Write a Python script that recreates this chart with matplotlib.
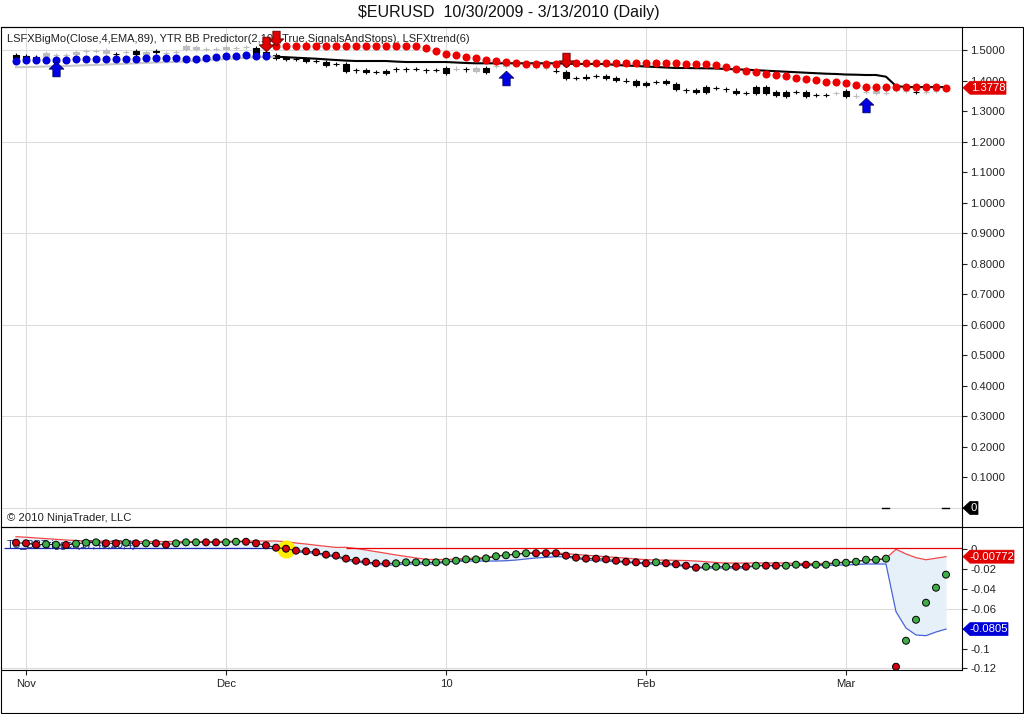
import numpy as np
import matplotlib
matplotlib.use('Agg')
import matplotlib.pyplot as plt
from matplotlib.patches import Polygon, Rectangle
from matplotlib.lines import Line2D
from matplotlib.transforms import IdentityTransform

plt.rcParams['font.family'] = ['Liberation Sans', 'DejaVu Sans']

# price panel
candle_open = [1.4852,1.4819,1.4786,1.4819,1.4852,1.4852,1.4885,1.4967,1.4983,1.4918,1.4885,1.4950,1.4983,1.4885,1.4970,1.4918,1.4950,1.5049,1.5049,1.5049,
	1.5049,1.5049,1.5082,1.5114,1.5082,1.4950,1.4852,1.4740,1.4721,1.4721,1.4655,1.4622,1.4557,1.4557,1.4350,1.4360,1.4288,1.4327,1.4383,1.4383,
	1.4393,1.4350,1.4370,1.4426,1.4403,1.4383,1.4327,1.4416,1.4500,1.4491,1.4560,1.4540,1.4449,1.4416,1.4340,1.4294,1.4101,1.4147,1.4163,1.4153,
	1.4098,1.4012,1.3989,1.3944,1.3966,1.3989,1.3901,1.3695,1.3714,1.3812,1.3780,1.3727,1.3688,1.3616,1.3793,1.3793,1.3649,1.3638,1.3640,1.3638,
	1.3541,1.3541,1.3596,1.3671,1.3517,1.3649,1.3616,1.3616,1.3700,1.3661,1.3631,1.3638,1.3681,1.3727]
candle_close = [1.4754,1.4721,1.4721,1.4918,1.4852,1.4852,1.4950,1.4967,1.4983,1.5016,1.4880,1.4950,1.4885,1.4950,1.4965,1.4918,1.4950,1.5147,1.5114,1.5049,
	1.5049,1.5114,1.5082,1.5114,1.4885,1.4819,1.4754,1.4735,1.4718,1.4655,1.4652,1.4540,1.4554,1.4337,1.4347,1.4294,1.4285,1.4252,1.4380,1.4380,
	1.4390,1.4347,1.4367,1.4272,1.4406,1.4380,1.4426,1.4304,1.4503,1.4557,1.4563,1.4543,1.4452,1.4419,1.4337,1.4088,1.4098,1.4098,1.4160,1.4088,
	1.4032,1.4009,1.3859,1.3878,1.3963,1.3924,1.3727,1.3692,1.3649,1.3649,1.3777,1.3724,1.3622,1.3613,1.3596,1.3596,1.3540,1.3524,1.3635,1.3507,
	1.3538,1.3538,1.3599,1.3517,1.3520,1.3652,1.3681,1.3619,1.3703,1.3664,1.3628,1.3641,1.3684,1.3730]
trend = [1.4449,1.4458,1.4465,1.4475,1.4481,1.4491,1.4504,1.4517,1.4527,1.4540,1.4553,1.4567,1.4580,1.4593,1.4606,1.4616,1.4629,1.4642,1.4665,1.4681,
	1.4701,1.4721,1.4740,1.4760,1.4777,1.4786,1.4796,1.4780,1.4763,1.4747,1.4731,1.4708,1.4688,1.4668,1.4655,1.4655,1.4655,1.4655,1.4636,1.4622,
	1.4622,1.4622,1.4622,1.4622,1.4606,1.4590,1.4580,1.4580,1.4580,1.4580,1.4580,1.4580,1.4580,1.4580,1.4580,1.4567,1.4557,1.4557,1.4557,1.4557,
	1.4524,1.4508,1.4491,1.4475,1.4458,1.4442,1.4426,1.4426,1.4419,1.4416,1.4409,1.4393,1.4383,1.4370,1.4354,1.4337,1.4321,1.4304,1.4288,1.4271,
	1.4255,1.4239,1.4229,1.4212,1.4206,1.4196,1.4196,1.4140,1.3835,1.3802,1.3802,1.3802,1.3802,1.3802]
stop_long = [1.4665,1.4678,1.4688,1.4688,1.4688,1.4698,1.4721,1.4721,1.4721,1.4731,1.4737,1.4737,1.4737,1.4744,1.4744,1.4744,1.4744,1.4737,1.4737,1.4754,
	1.4786,1.4819,1.4819,1.4836,1.4819,1.4819]
stop_short = [1.5155,1.5155,1.5155,1.5155,1.5155,1.5155,1.5155,1.5155,1.5155,1.5155,1.5155,1.5155,1.5155,1.5155,1.5155,1.5082,1.4993,1.4885,1.4852,1.4777,
	1.4754,1.4688,1.4655,1.4622,1.4599,1.4567,1.4567,1.4567,1.4567,1.4580,1.4574,1.4574,1.4574,1.4574,1.4574,1.4574,1.4574,1.4574,1.4574,1.4574,
	1.4574,1.4567,1.4567,1.4557,1.4534,1.4458,1.4393,1.4337,1.4285,1.4239,1.4206,1.4163,1.4107,1.4065,1.4032,1.3976,1.3976,1.3944,1.3868,1.3802,
	1.3802,1.3802,1.3812,1.3812,1.3802,1.3802,1.3802,1.3778]
up_bars = [4, 49, 85]
up_vals = [1.4393, 1.4114, 1.3212]
down_bars = [25, 26, 55]
down_vals = [1.5213, 1.5410, 1.4688]

# trigger panel
trigger = [.0063,.0057,.0043,.0047,.0043,.0040,.0053,.0063,.0067,.0057,.0057,.0063,.0057,.0057,.0057,.0043,.0057,.0067,.0067,.0067,
	.0067,.0067,.0073,.0073,.0057,.0037,.0013,.0003,-.0017,-.0023,-.0033,-.0057,-.0067,-.0097,-.0118,-.0128,-.0144,-.0144,-.0144,-.0134,
	-.0134,-.0134,-.0134,-.0128,-.0118,-.0104,-.0104,-.0094,-.0073,-.0063,-.0053,-.0043,-.0043,-.0043,-.0043,-.0067,-.0087,-.0097,-.0097,-.0104,
	-.0118,-.0128,-.0134,-.0144,-.0134,-.0144,-.0154,-.0168,-.0188,-.0178,-.0178,-.0178,-.0178,-.0178,-.0168,-.0168,-.0168,-.0168,-.0158,-.0158,
	-.0158,-.0158,-.0138,-.0138,-.0128,-.0108,-.0108,-.0097,-.1183,-.0922,-.0711,-.0540,-.0389,-.0258]
trigger_colors = 'rrrggrgggrrgrgrrgggrrgg' + 'r'*15 + 'g'*14 + 'r'*12 + 'g' + 'rrrr' + 'ggg' + 'rr' + 'g' + 'rr' + 'gg' + 'r' + 'g'*8 + 'r' + 'g'*5
upper = [.0124,.0118,.0111,.0104,.0097,.0090,.0085,.0080,.0078,.0078,.0078,.0075,.0075,.0075,.0075,.0075,.0075,.0075,.0075,.0075,
	.0075,.0077,.0080,.0080,.0080,.0080,.0080,.0073,.0060,.0050,.0038,.0027,.0016,.0017,.0005,-.0010,-.0027,-.0043,-.0060,-.0075,
	-.0090,-.0104,-.0106,-.0106,-.0100,-.0095,-.0090,-.0083,-.0070,-.0060,-.0050,-.0040,-.0038,-.0038,-.0040,-.0047,-.0055,-.0062,-.0070,-.0078,
	-.0085,-.0092,-.0100,-.0107,-.0111,-.0112,-.0114,-.0116,-.0121,-.0128,-.0136,-.0141,-.0141,-.0141,-.0141,-.0141,-.0141,-.0141,-.0146,-.0146,
	-.0146,-.0146,-.0136,-.0131,-.0124,-.0111,-.0106,-.0095,-.0003,-.0050,-.0087,-.0108,-.0093,-.0077]
lower = [.0007]*27 + [.0005,-.0030,-.0035,-.0045,-.0070,-.0080,-.0111,-.0131,-.0141,-.0156,-.0161,-.0161,-.0151,-.0151,-.0151,-.0151,-.0131,-.0126,-.0121,-.0121,
	-.0121,-.0121,-.0118,-.0111,-.0100,-.0090,-.0085,-.0077,-.0080,-.0095,-.0111,-.0116,-.0121,-.0128,-.0136,-.0141,-.0151,-.0151,-.0156,-.0164,
	-.0176,-.0191,-.0191,-.0191,-.0191,-.0191,-.0191,-.0166,-.0166,-.0166,-.0166,-.0166,-.0166,-.0166,-.0166,-.0161,-.0161,-.0156,-.0151,-.0151,
	-.0151,-.0630,-.0794,-.0864,-.0871,-.0834,-.0805]

month_bars = [1, 21, 43, 63, 83]
month_labels = ['Nov', 'Dec', '10', 'Feb', 'Mar']
price_ticks = [0, .1, .2, .3, .4, .5, .6, .7, .8, .9, 1.0, 1.1, 1.2, 1.3, 1.4, 1.5]
price_grid = [0, .3, .6, .9, 1.2, 1.5]
trigger_ticks = [0, -.02, -.04, -.06, -.08, -.1, -.12]
# 0 on the price axis and -0.08 sit behind the value flags
trigger_labels = ['0', '-0.02', '-0.04', '-0.06', '', '-0.1', '-0.12']

GRID = '#dcdcdc'
W, H = 1024.0, 714.0
XLIM = (-1.5, 94.6)

bars = np.arange(len(candle_open))

fig = plt.figure(figsize=(10.24, 7.14), dpi=100)
ax = fig.add_axes([1/W, (H-527)/H, 961/W, 500/H])
ax2 = fig.add_axes([1/W, (H-670)/H, 961/W, 143/H])

for a in (ax, ax2):
	a.set_xlim(XLIM)
	a.set_axisbelow(True)
	a.spines['left'].set_visible(False)
	a.yaxis.tick_right()
	a.tick_params(axis='y', length=3.6, width=0.8, labelsize=8.1, colors='#222222', pad=2.5)
	a.set_xticks(month_bars)

# top panel
ax.set_ylim(-0.0623, 1.577)
ax.set_yticks(price_ticks)
ax.set_yticklabels([''] + ['%.4f' % v for v in price_ticks[1:]])
ax.tick_params(axis='x', length=0, labelbottom=False)
ax.spines['bottom'].set_visible(False)
ax.grid(True, axis='x', color=GRID, lw=0.75)
for v in price_grid:
	ax.axhline(v, color=GRID, lw=0.75, zorder=0)

for i in bars:
	o, c = candle_open[i], candle_close[i]
	col = 'black' if c < o else '#bdbdbd'
	ax.vlines(i, min(o, c)-0.007, max(o, c)+0.007, color=col, lw=0.8, zorder=2)
	ax.bar(i, abs(c-o), width=0.55, bottom=min(o, c), color=col, edgecolor=col, lw=0.8, zorder=2)

ax.plot(bars[:27], trend[:27], color='#c8c8c8', lw=1.5, zorder=3)
ax.plot(bars[26:], trend[26:], color='black', lw=1.5, zorder=3)
ax.plot(bars[:26], stop_long, 'o', color='#0000d8', ms=5.8, mew=0, zorder=4)
ax.plot(bars[26:], stop_short, 'o', color='#ee0000', ms=5.8, mew=0, zorder=4)

up_arrow = [(0, 1), (1, 0.05), (0.5, 0.05), (0.5, -1), (-0.5, -1), (-0.5, 0.05), (-1, 0.05), (0, 1)]
down_arrow = [(x, -y) for x, y in up_arrow]
ax.plot(up_bars, up_vals, ls='', marker=up_arrow, ms=10.5, color='#0000e6', mec='#000060', mew=0.6, zorder=5)
ax.plot(down_bars, down_vals, ls='', marker=down_arrow, ms=10.5, color='#e00000', mec='#600000', mew=0.6, zorder=5)

ax.plot([86.6, 87.3], [0, 0], color='black', lw=1, zorder=3)
ax.plot([92.6, 93.3], [0, 0], color='black', lw=1, zorder=3)

ax.text(6/961, 1-12/500, 'LSFXBigMo(Close,4,EMA,89), YTR BB Predictor(2,100,True,SignalsAndStops), LSFXtrend(6)',
	transform=ax.transAxes, fontsize=8, color='#222222', va='center', zorder=3)
ax.text(6/961, 9/500, '\u00a9 2010 NinjaTrader, LLC', transform=ax.transAxes, fontsize=8.1, color='#222222', va='center')

# bottom panel
ax2.set_ylim(-0.1216, 0.0221)
ax2.set_yticks(trigger_ticks)
ax2.set_yticklabels(trigger_labels)
ax2.set_xticklabels(month_labels)
ax2.tick_params(axis='x', length=3.6, width=0.8, labelsize=8.1, colors='#222222', pad=3)
ax2.grid(True, axis='x', color=GRID, lw=0.75)
for v in [-.06, -.12]:
	ax2.axhline(v, color=GRID, lw=0.75, zorder=0)

ax2.fill_between(bars, lower, upper, color='#e6f0f9', lw=0, zorder=1)
ax2.plot(bars, upper, color='#f04848', lw=0.9, zorder=2)
ax2.plot(bars[27:], lower[27:], color='#4a64d8', lw=0.9, zorder=2)
ax2.hlines(0.0007, XLIM[0]+0.3, 27, color='#1828b0', lw=0.9, zorder=2)
ax2.hlines(0.0005, 33, XLIM[1], color='#e80000', lw=0.9, zorder=2)
ax2.text(6/961, 1-18/143, 'TS_BBTrigger(17,40,20,4)', transform=ax2.transAxes, fontsize=8, color='#1c2a70', va='center', zorder=2)
ax2.plot(bars[27], trigger[27], 'o', color='#ffee00', ms=13, mew=0, zorder=2.5)
ax2.plot(bars[:88], trigger[:88], color='#222222', lw=0.8, zorder=3)
dot_cols = ['#d40012' if k == 'r' else '#3fae49' for k in trigger_colors]
ax2.scatter(bars, trigger, s=25, c=dot_cols, edgecolors='black', linewidths=0.7, zorder=4)

# outer frame and dividers
fig.add_artist(Rectangle((1/W, 1/H), 1022/W, (H-28)/H, fill=False, ec='black', lw=0.8, transform=fig.transFigure))
fig.add_artist(Line2D([1/W, 1023/W], [(H-527)/H]*2, color='black', lw=0.8))
fig.text(509/W, (H-13)/H, '\\$EURUSD  10/30/2009 - 3/13/2010 (Daily)', fontsize=11.5, ha='center', va='center', color='#111111')


def flag(a, value, text, color, x1):
	# price marker on the right axis
	fig.canvas.draw()
	y = a.transData.transform((0, value))[1]
	pts = [(963, y), (970, y+6.5), (x1, y+6.5), (x1, y-6.5), (970, y-6.5)]
	fig.add_artist(Polygon(pts, closed=True, fc=color, ec=color, lw=0.5, transform=IdentityTransform()))
	fig.text((x1+970)/2/W, y/H, text, color='white', fontsize=8.1, ha='center', va='center', zorder=3)


flag(ax, 1.3778, '1.3778', '#e00000', 1006)
flag(ax, 0, '0', 'black', 978)
flag(ax2, -0.00772, '-0.00772', '#e00000', 1014)
flag(ax2, -0.0805, '-0.0805', '#0000d8', 1008)

fig.savefig('out.png', dpi=100)
